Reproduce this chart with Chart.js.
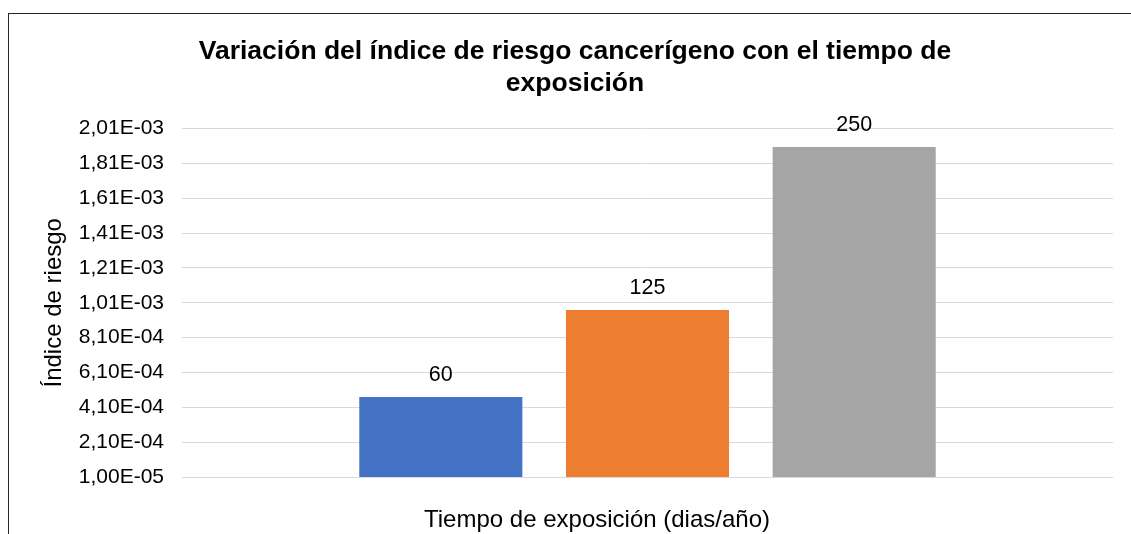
<!DOCTYPE html>
<html lang="es">
<head>
<meta charset="utf-8">
<title>Índice de riesgo cancerígeno</title>
<script src="https://cdn.jsdelivr.net/npm/chart.js@4.4.1/dist/chart.umd.min.js"></script>
<style>
  html, body { margin: 0; padding: 0; background: #fff; overflow: hidden; }
  #grafico { position: absolute; left: 0; top: 0; }
  /* marco exterior del gráfico (sigue más allá del borde derecho e inferior) */
  #marco {
    position: absolute; left: 8px; top: 13px; width: 1178px; height: 600px;
    border: 1px solid #262626; box-sizing: border-box; pointer-events: none;
  }
</style>
</head>
<body>
<canvas id="grafico" width="1131" height="534"></canvas>
<div id="marco"></div>
<script>
// Series: tiempo de exposición (días/año) y su índice de riesgo
const series = ['60', '125', '250'];
const indiceRiesgo = [4.69e-4, 9.68e-4, 1.904e-3];
const colores = ['#4472C4', '#ED7D31', '#A5A5A5'];

// Marcas del eje Y
const yTickValues = [1.0e-5, 2.1e-4, 4.1e-4, 6.1e-4, 8.1e-4, 1.01e-3, 1.21e-3, 1.41e-3, 1.61e-3, 1.81e-3, 2.01e-3];
const yTickLabels = ['1,00E-05', '2,10E-04', '4,10E-04', '6,10E-04', '8,10E-04', '1,01E-03', '1,21E-03', '1,41E-03', '1,61E-03', '1,81E-03', '2,01E-03'];

const titulo = ['Variación del índice de riesgo cancerígeno con el tiempo de', 'exposición'];
const tituloX = 'Tiempo de exposición (dias/año)';
const tituloY = 'Índice de riesgo';

const FUENTE = '"Liberation Sans", Arial, sans-serif';
Chart.defaults.font.family = FUENTE;
Chart.defaults.color = '#000';

// nombre de la serie encima de cada barra
const etiquetasSerie = {
    id: 'etiquetasSerie',
    afterDatasetsDraw(chart) {
        const ctx = chart.ctx;
        ctx.save();
        ctx.font = '21.5px ' + FUENTE;
        ctx.fillStyle = '#000';
        ctx.textAlign = 'center';
        ctx.textBaseline = 'middle';
        chart.data.datasets.forEach((ds, i) => {
            const bar = chart.getDatasetMeta(i).data[0];
            ctx.fillText(ds.label, bar.x, bar.y - 22);
        });
        ctx.restore();
    }
};

// título del eje X, centrado en el marco exterior
const tituloEjeX = {
    id: 'tituloEjeX',
    afterDraw(chart) {
        const marco = document.getElementById('marco');
        const centro = marco.offsetLeft + marco.offsetWidth / 2;
        const ctx = chart.ctx;
        ctx.save();
        ctx.font = '24px ' + FUENTE;
        ctx.fillStyle = '#000';
        ctx.textAlign = 'center';
        ctx.textBaseline = 'alphabetic';
        ctx.fillText(tituloX, centro, 527);
        ctx.restore();
    }
};

new Chart(document.getElementById('grafico'), {
    type: 'bar',
    data: {
        labels: [''],
        datasets: series.map((nombre, i) => ({
            label: nombre,
            data: [indiceRiesgo[i]],
            backgroundColor: colores[i],
            categoryPercentage: 0.666,
            barPercentage: 0.789
        }))
    },
    options: {
        responsive: false,
        animation: false,
        layout: { padding: { left: 37, right: 18, top: 0, bottom: 57 } },
        plugins: {
            legend: { display: false },
            tooltip: { enabled: false },
            title: {
                display: true,
                text: titulo,
                color: '#000',
                font: { size: 26.5, weight: 'bold' },
                padding: { top: 36, bottom: 29 }
            }
        },
        scales: {
            x: { display: false },
            y: {
                min: 1e-5,
                max: 2.01e-3,
                afterBuildTicks: (s) => { s.ticks = yTickValues.map(v => ({ value: v })); },
                afterFit: (s) => { s.width = 145; },
                grid: { color: '#D9D9D9', lineWidth: 1, drawTicks: false },
                border: { display: false },
                ticks: {
                    autoSkip: false,
                    padding: 18,
                    color: '#000',
                    font: { size: 21 },
                    callback: (v, i) => yTickLabels[i]
                },
                title: {
                    display: true,
                    text: tituloY,
                    color: '#000',
                    font: { size: 24 },
                    padding: { top: 3, bottom: 0 }
                }
            }
        }
    },
    plugins: [etiquetasSerie, tituloEjeX]
});
</script>
</body>
</html>
